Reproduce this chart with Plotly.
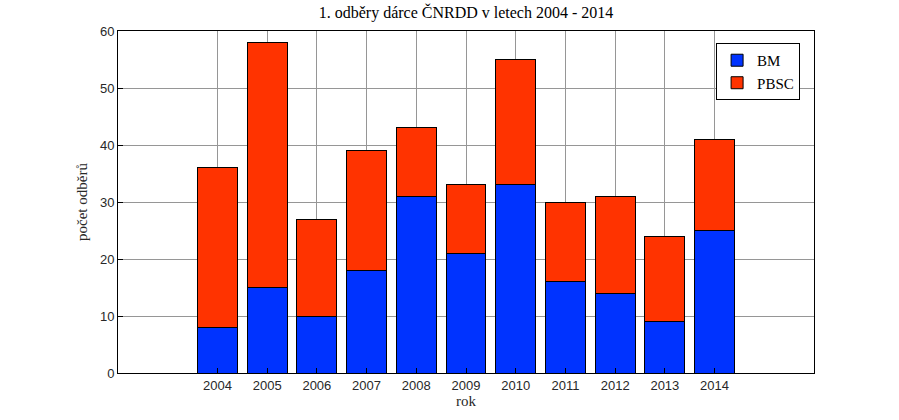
import plotly.graph_objects as go

years = [2004, 2005, 2006, 2007, 2008, 2009, 2010, 2011, 2012, 2013, 2014]
bm = [8, 15, 10, 18, 31, 21, 33, 16, 14, 9, 25]
pbsc = [28, 43, 17, 21, 12, 12, 22, 14, 17, 15, 16]

fig = go.Figure()
fig.add_trace(go.Bar(x=years, y=bm, name="BM", width=0.8,
                     marker=dict(color="rgb(0,51,255)", line=dict(color="black", width=1))))
fig.add_trace(go.Bar(x=years, y=pbsc, name="PBSC", width=0.8,
                     marker=dict(color="rgb(255,51,0)", line=dict(color="black", width=1))))

axis_common = dict(showline=True, linecolor="black", linewidth=1, mirror=True,
                   showgrid=True, gridcolor="rgb(150,150,150)", gridwidth=1,
                   ticks="inside", ticklen=5, tickcolor="black", zeroline=False,
                   tickfont=dict(family="Liberation Sans, Arial", size=13, color="rgb(40,40,40)"))

fig.update_layout(
    barmode="stack",
    width=899, height=420,
    margin=dict(l=118, r=85, t=31, b=47),
    plot_bgcolor="white", paper_bgcolor="white",
    title=dict(text="1. odběry dárce ČNRDD v letech 2004 - 2014",
               font=dict(family="Liberation Serif, Times New Roman", size=16, color="black"),
               x=0.5, xanchor="center", xref="paper", y=0.985, yanchor="top"),
    xaxis=dict(range=[2002, 2016], tickvals=years, ticktext=[str(y) for y in years],
               title=dict(text="rok", standoff=2,
                          font=dict(family="Liberation Serif, Times New Roman", size=15, color="rgb(40,40,40)")),
               **axis_common),
    yaxis=dict(range=[0, 60], tickvals=[0, 10, 20, 30, 40, 50, 60],
               title=dict(text="počet odběrů", standoff=8,
                          font=dict(family="Liberation Serif, Times New Roman", size=15, color="rgb(40,40,40)")),
               **axis_common),
    legend=dict(x=0.98, y=0.965, xanchor="right", yanchor="top",
                bgcolor="white", bordercolor="black", borderwidth=1,
                font=dict(family="Liberation Serif, Times New Roman", size=15, color="black"),
                traceorder="normal", tracegroupgap=0),
)
fig.write_html("out.html")
